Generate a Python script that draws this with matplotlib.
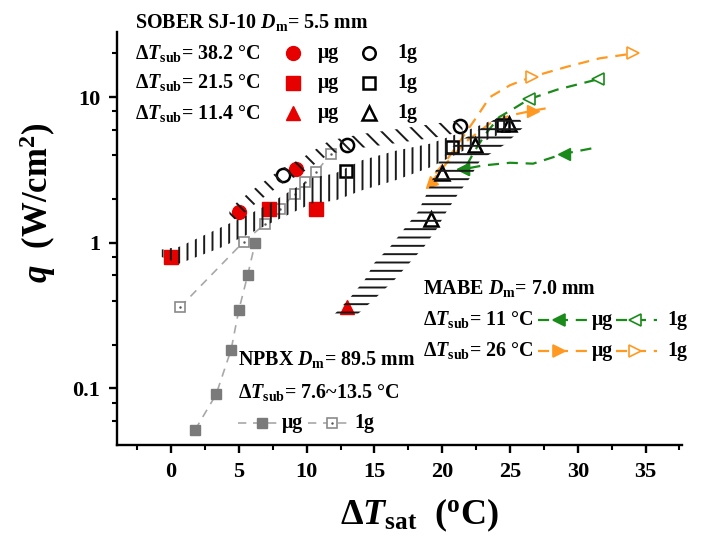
import numpy as np
import matplotlib
matplotlib.use('Agg')
import matplotlib.pyplot as plt
from matplotlib.markers import MarkerStyle
from matplotlib.transforms import Affine2D
from matplotlib.ticker import LogLocator, MultipleLocator, FixedFormatter, FixedLocator

plt.rcParams['font.family'] = ['Liberation Serif', 'DejaVu Serif']
plt.rcParams['font.weight'] = 'bold'
plt.rcParams['mathtext.fontset'] = 'custom'
plt.rcParams['mathtext.rm'] = 'Liberation Serif:bold'
plt.rcParams['mathtext.bf'] = 'Liberation Serif:bold'
plt.rcParams['mathtext.it'] = 'Liberation Serif:italic:bold'
plt.rcParams['hatch.linewidth'] = 1.4
plt.rcParams['hatch.color'] = '#1a1a1a'

# ---- SOBER SJ-10 data (dTsat, q) ----
sober_ug_circ_x = [5.0, 9.2]
sober_ug_circ_q = [1.63, 3.24]
sober_ug_sq_x = [0.0, 7.25, 10.7]
sober_ug_sq_q = [0.80, 1.72, 1.72]
sober_ug_tri_x = [13.0]
sober_ug_tri_q = [0.36]

sober_1g_circ_x = [8.24, 13.0, 21.3]
sober_1g_circ_q = [2.91, 4.68, 6.3]
sober_1g_sq_x = [12.9, 20.7, 24.45]
sober_1g_sq_q = [3.1, 4.55, 6.4]
sober_1g_tri_x = [19.2, 20.0, 22.4, 24.9]
sober_1g_tri_q = [1.47, 3.0, 4.68, 6.6]

# hatched bands
band_d_x = [4.3, 5.0, 6.5, 8.2, 9.5, 11.7, 14.1, 17.0, 19.5, 21.5]
band_d_lo = [1.40, 1.50, 1.95, 2.55, 2.95, 4.1, 4.5, 4.9, 5.3, 5.8]
band_d_hi = [1.70, 1.95, 2.50, 3.25, 3.75, 5.05, 5.6, 6.1, 6.6, 7.0]

band_v_x = [-0.7, 0.6, 3.7, 5.8, 7.3, 10.4, 12.1, 14.1, 16.6, 19.1, 22.0, 25.0]
band_v_lo = [0.80, 0.72, 0.93, 1.16, 1.36, 1.87, 1.95, 2.3, 2.7, 3.3, 4.5, 6.0]
band_v_hi = [0.90, 0.94, 1.28, 1.58, 1.87, 2.8, 3.0, 3.7, 4.3, 4.8, 6.0, 7.8]

band_h_q = [0.32, 0.42, 0.56, 0.73, 0.95, 1.25, 1.63, 2.12, 2.76, 3.69, 4.8, 6.25, 7.2]
band_h_xl = [12.0, 13.2, 14.3, 15.0, 16.2, 17.2, 18.2, 18.8, 19.3, 19.8, 21.0, 23.0, 24.0]
band_h_xr = [13.7, 15.1, 16.5, 17.6, 18.7, 19.6, 20.3, 21.1, 22.0, 22.8, 24.7, 26.0, 25.7]

# ---- NPBX ----
npbx_ug_x = [1.77, 3.32, 4.43, 4.99, 5.65, 6.2]
npbx_ug_q = [0.052, 0.091, 0.185, 0.344, 0.6, 1.0]
npbx_1g_x = [0.66, 5.36, 6.9, 8.0, 9.15, 9.9, 10.7, 11.8]
npbx_1g_q = [0.362, 1.02, 1.34, 1.7, 2.18, 2.6, 3.07, 4.1]

# ---- MABE ----
mabe11_ug_x = [31.0, 29.0, 26.7, 25.0, 23.0, 21.5]
mabe11_ug_q = [4.45, 4.1, 3.5, 3.55, 3.4, 3.2]
mabe11_1g_x = [21.8, 22.4, 23.2, 24.2, 25.4, 26.4, 28.5, 31.5]
mabe11_1g_q = [3.4, 4.3, 5.6, 7.3, 8.5, 9.7, 11.3, 13.3]
mabe26_ug_x = [19.1, 20.5, 21.8, 23.5, 25.0, 26.7, 28.0]
mabe26_ug_q = [2.55, 3.7, 5.0, 6.6, 7.5, 8.1, 8.5]
mabe26_1g_x = [19.5, 20.5, 21.5, 22.7, 23.5, 25.0, 26.6, 29.2, 31.6, 34.1]
mabe26_1g_q = [3.0, 3.9, 5.3, 7.7, 10.0, 12.1, 13.8, 16.2, 18.5, 20.0]

red = '#e60000'
green = '#1a8a1a'
orange = '#ff9922'
gray = '#7a7a7a'
lgray = '#a8a8a8'

fig = plt.figure(figsize=(7.04, 5.36), dpi=100)
ax = fig.add_axes([0.166, 0.170, 0.803, 0.770])
ax.set_yscale('log')
ax.set_xlim(-4.0, 37.7)
ax.set_ylim(0.041, 28)

# NPBX
ax.plot(npbx_ug_x, npbx_ug_q, ls=(0, (5, 4)), color=lgray, lw=1.2, marker='s',
        ms=6.5, mfc=gray, mec=gray, zorder=2)
ax.plot(npbx_1g_x, npbx_1g_q, ls=(0, (5, 4)), color=lgray, lw=1.2, marker='s',
        ms=6.5, mfc='white', mec='#8a8a8a', mew=1.2, zorder=2)
ax.plot(npbx_1g_x, npbx_1g_q, ls='none', marker='.', ms=1.5, color='#555555', zorder=2)

# MABE
dash = (0, (5, 3.5))
ax.plot(mabe11_ug_x, mabe11_ug_q, ls=dash, color=green, lw=1.6, zorder=2)
ax.plot(mabe11_ug_x[1::4], mabe11_ug_q[1::4], ls='none', marker='<', ms=8, color=green, zorder=3)
ax.plot(mabe11_ug_x[-1:], mabe11_ug_q[-1:], ls='none', marker='<', ms=8, color=green, zorder=3)
ax.plot(mabe11_1g_x, mabe11_1g_q, ls=dash, color=green, lw=1.6, zorder=2)
ax.plot(mabe11_1g_x[5::2], mabe11_1g_q[5::2], ls='none', marker='<', ms=8, mfc='white',
        mec=green, mew=1.2, zorder=3)
ax.plot(mabe26_ug_x, mabe26_ug_q, ls=dash, color=orange, lw=1.6, zorder=2)
ax.plot(mabe26_ug_x[5:6], mabe26_ug_q[5:6], ls='none', marker='>', ms=8, color=orange, zorder=3)
ax.plot(mabe26_ug_x[:1], mabe26_ug_q[:1], ls='none', ms=8, color=orange, zorder=3,
        marker=MarkerStyle('>', transform=Affine2D().rotate_deg(225)))
ax.plot(mabe26_1g_x, mabe26_1g_q, ls=dash, color=orange, lw=1.6, zorder=2)
ax.plot(mabe26_1g_x[6::3], mabe26_1g_q[6::3], ls='none', marker='>', ms=8, mfc='white',
        mec=orange, mew=1.2, zorder=3)

# SOBER
ax.plot(sober_ug_circ_x, sober_ug_circ_q, 'o', ms=10, color=red, zorder=3)
ax.plot(sober_ug_sq_x, sober_ug_sq_q, 's', ms=9.5, color=red, zorder=3)
ax.plot(sober_ug_tri_x, sober_ug_tri_q, '^', ms=10.5, color=red, zorder=3)
ax.plot(sober_1g_circ_x, sober_1g_circ_q, 'o', ms=9.5, mfc='none', mec='black', mew=1.8, zorder=3)
ax.plot(sober_1g_sq_x, sober_1g_sq_q, 's', ms=8.5, mfc='none', mec='black', mew=1.8, zorder=3)
ax.plot(sober_1g_tri_x, sober_1g_tri_q, '^', ms=10, mfc='none', mec='black', mew=1.8, zorder=3)

# hatched bands
ax.fill_between(band_d_x, band_d_lo, band_d_hi, facecolor='none', edgecolor='#1a1a1a',
                hatch='\\\\', linewidth=0, zorder=4)
ax.fill_between(band_v_x, band_v_lo, band_v_hi, facecolor='none', edgecolor='#1a1a1a',
                hatch='||', linewidth=0, zorder=4)
ax.fill_betweenx(band_h_q, band_h_xl, band_h_xr, facecolor='none', edgecolor='#1a1a1a',
                 hatch='--', linewidth=0, zorder=4)

# axes style
for s in ['top', 'right']:
    ax.spines[s].set_visible(False)
for s in ['left', 'bottom']:
    ax.spines[s].set_linewidth(1.7)
ax.xaxis.set_major_locator(MultipleLocator(5))
ax.xaxis.set_minor_locator(MultipleLocator(2.5))
ax.set_xticks([0, 5, 10, 15, 20, 25, 30, 35])
ax.yaxis.set_major_locator(FixedLocator([0.1, 1, 10]))
ax.yaxis.set_major_formatter(FixedFormatter(['0.1', '1', '10']))
ax.yaxis.set_minor_locator(LogLocator(base=10, subs=(2, 4, 6, 8)))
ax.yaxis.set_minor_formatter(FixedFormatter([]))
ax.tick_params(which='major', direction='out', length=6, width=1.7, labelsize=16, pad=6)
ax.tick_params(which='minor', direction='out', length=3.5, width=1.5)
for lab in ax.get_xticklabels() + ax.get_yticklabels():
    lab.set_fontweight('bold')

ax.set_xlabel(r'$\Delta T_{\rm sat}$  ($^{\rm o}$C)', fontsize=26, fontweight='bold')
ax.xaxis.set_label_coords(0.535, -0.125)
ax.set_ylabel(r'$q$  (W/cm$^{2}$)', fontsize=25, fontweight='bold', va='center', ha='center')
ax.yaxis.set_label_coords(-0.14, 0.586)

fs = 14.4
tr = ax.transAxes

def glyph(x0, x1, xm, y, color, marker, filled, dashed=True, ms=8, mfc=None):
    if dashed:
        ax.plot([x0, x1], [y, y], transform=tr, ls=dash, color=color, lw=1.6, clip_on=False)
    ax.plot([xm], [y], transform=tr, ls='none', marker=marker, ms=ms, clip_on=False,
            mfc=(color if filled else (mfc or 'white')), mec=color, mew=1.2)

# SOBER legend
ax.text(0.032, 1.024, r'SOBER SJ-10 $D_{\rm m}$= 5.5 mm', transform=tr, fontsize=fs, va='center')
rows = [0.949, 0.877, 0.804]
labels = ['38.2', '21.5', '11.4']
marks = ['o', 's', '^']
msz = [10, 9.5, 10.5]
for y, lab, m, s in zip(rows, labels, marks, msz):
    ax.text(0.032, y, r'$\Delta T_{\rm sub}$= ' + lab + ' °C', transform=tr, fontsize=fs, va='center')
    ax.plot([0.311], [y], transform=tr, marker=m, ms=s, color=red, ls='none', clip_on=False)
    ax.text(0.356, y, 'μg', transform=tr, fontsize=fs, va='center')
    ax.plot([0.446], [y], transform=tr, marker=m, ms=s - 1, mfc='none', mec='black', mew=1.8,
            ls='none', clip_on=False)
    ax.text(0.497, y, '1g', transform=tr, fontsize=fs, va='center')

# MABE legend
ax.text(0.542, 0.380, r'MABE $D_{\rm m}$= 7.0 mm', transform=tr, fontsize=fs, va='center')
for y, lab, col, mk in [(0.303, '11', green, '<'), (0.228, '26', orange, '>')]:
    ax.text(0.542, y, r'$\Delta T_{\rm sub}$= ' + lab + ' °C', transform=tr, fontsize=fs, va='center')
    glyph(0.745, 0.838, 0.782, y, col, mk, True)
    ax.text(0.841, y, 'μg', transform=tr, fontsize=fs, va='center')
    glyph(0.883, 0.955, 0.917, y, col, mk, False)
    ax.text(0.973, y, '1g', transform=tr, fontsize=fs, va='center')

# NPBX legend
ax.text(0.214, 0.206, r'NPBX $D_{\rm m}$= 89.5 mm', transform=tr, fontsize=fs, va='center')
ax.text(0.214, 0.126, r'$\Delta T_{\rm sub}$= 7.6~13.5 °C', transform=tr, fontsize=fs, va='center')
ly = 0.053
ax.plot([0.214, 0.285], [ly, ly], transform=tr, ls=(0, (5, 4)), color=lgray, lw=1.2, clip_on=False)
ax.plot([0.257], [ly], transform=tr, marker='s', ms=6.5, color=gray, ls='none', clip_on=False)
ax.text(0.292, ly, 'μg', transform=tr, fontsize=fs, va='center')
ax.plot([0.338, 0.412], [ly, ly], transform=tr, ls=(0, (5, 4)), color=lgray, lw=1.2, clip_on=False)
ax.plot([0.381], [ly], transform=tr, marker='s', ms=6.5, mfc='white', mec='#8a8a8a', mew=1.2,
        ls='none', clip_on=False)
ax.plot([0.381], [ly], transform=tr, marker='.', ms=1.5, color='#555555', ls='none', clip_on=False)
ax.text(0.421, ly, '1g', transform=tr, fontsize=fs, va='center')

fig.savefig('out.png', dpi=100)
